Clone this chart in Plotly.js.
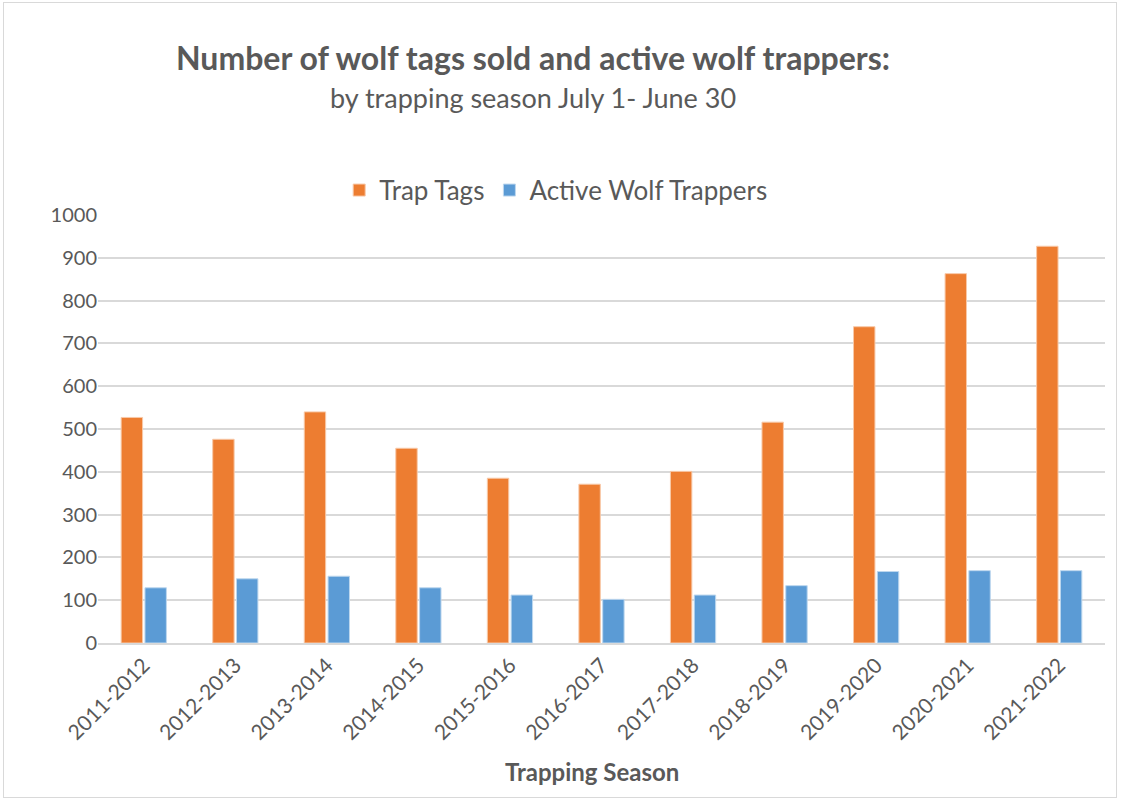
<!DOCTYPE html>
<html>
<head>
<meta charset="utf-8">
<script src="https://cdn.plot.ly/plotly-3.0.1.min.js"></script>
<style>
  html, body { margin: 0; padding: 0; background: #fff; }
  #frame { position: absolute; left: 3px; top: 2px; width: 1114px; height: 796px; border: 1px solid #d9d9d9; box-sizing: border-box; }
  #chart { position: absolute; left: 0; top: 0; width: 1123px; height: 801px; }
</style>
</head>
<body>
<div id="frame"></div>
<div id="chart"></div>
<script>
const seasons = ["2011-2012","2012-2013","2013-2014","2014-2015","2015-2016","2016-2017","2017-2018","2018-2019","2019-2020","2020-2021","2021-2022"];
const trapTags = [527, 476, 540, 455, 385, 371, 401, 516, 739, 863, 927];
const activeTrappers = [129, 150, 156, 129, 112, 102, 112, 134, 167, 169, 169];
const yTicks = [0,100,200,300,400,500,600,700,800,900,1000];

const FONT = "Lato, 'Open Sans', sans-serif";
const GRAY = "#595959";

const data = [
  { type: "bar", name: "Trap Tags", x: seasons, y: trapTags,
    marker: { color: "#ED7D31", line: { color: "#F8C9A8", width: 1 } }, hoverinfo: "x+y" },
  { type: "bar", name: "Active Wolf Trappers", x: seasons, y: activeTrappers,
    marker: { color: "#5B9BD5", line: { color: "#BDD7EE", width: 1 } }, hoverinfo: "x+y" }
];

const layout = {
  width: 1123, height: 801,
  paper_bgcolor: "rgba(0,0,0,0)", plot_bgcolor: "rgba(0,0,0,0)",
  margin: { l: 98, r: 18, t: 215, b: 158 },
  font: { family: FONT, color: GRAY, size: 20 },
  barmode: "group", bargap: 0.48, bargroupgap: 0.1,
  showlegend: true,
  legend: { orientation: "h", x: 0.455, xanchor: "center", y: 1.058, yanchor: "middle",
            font: { family: FONT, size: 26, color: GRAY }, itemwidth: 30, traceorder: "normal" },
  xaxis: {
    type: "category", tickangle: -45, tickfont: { family: FONT, size: 21, color: GRAY },
    showgrid: false, showline: true, linecolor: "#d9d9d9", linewidth: 1.5, ticks: "",
    automargin: false
  },
  yaxis: {
    range: [0, 1000], tickvals: yTicks, ticktext: yTicks.map(String),
    tickfont: { family: FONT, size: 20, color: GRAY },
    showgrid: true, gridcolor: "#d9d9d9", gridwidth: 1.5, zeroline: false,
    showline: false, ticks: "", ticklen: 0, automargin: false
  },
  annotations: [
    { text: "<b>Number of wolf tags sold and active wolf trappers:</b>", xref: "paper", yref: "paper",
      x: 0.432, y: 1 + (215 - 58) / 428, xanchor: "center", yanchor: "middle", showarrow: false,
      font: { family: FONT, size: 32, color: GRAY } },
    { text: "by trapping season July 1- June 30", xref: "paper", yref: "paper",
      x: 0.432, y: 1 + (215 - 97) / 428, xanchor: "center", yanchor: "middle", showarrow: false,
      font: { family: FONT, size: 27, color: GRAY } },
    { text: "<b>Trapping Season</b>", xref: "paper", yref: "paper",
      x: 0.4906, y: -(771 - 643) / 428, xanchor: "center", yanchor: "middle", showarrow: false,
      font: { family: FONT, size: 24, color: GRAY } }
  ]
};

Plotly.newPlot("chart", data, layout, { displayModeBar: false });
</script>
</body>
</html>
